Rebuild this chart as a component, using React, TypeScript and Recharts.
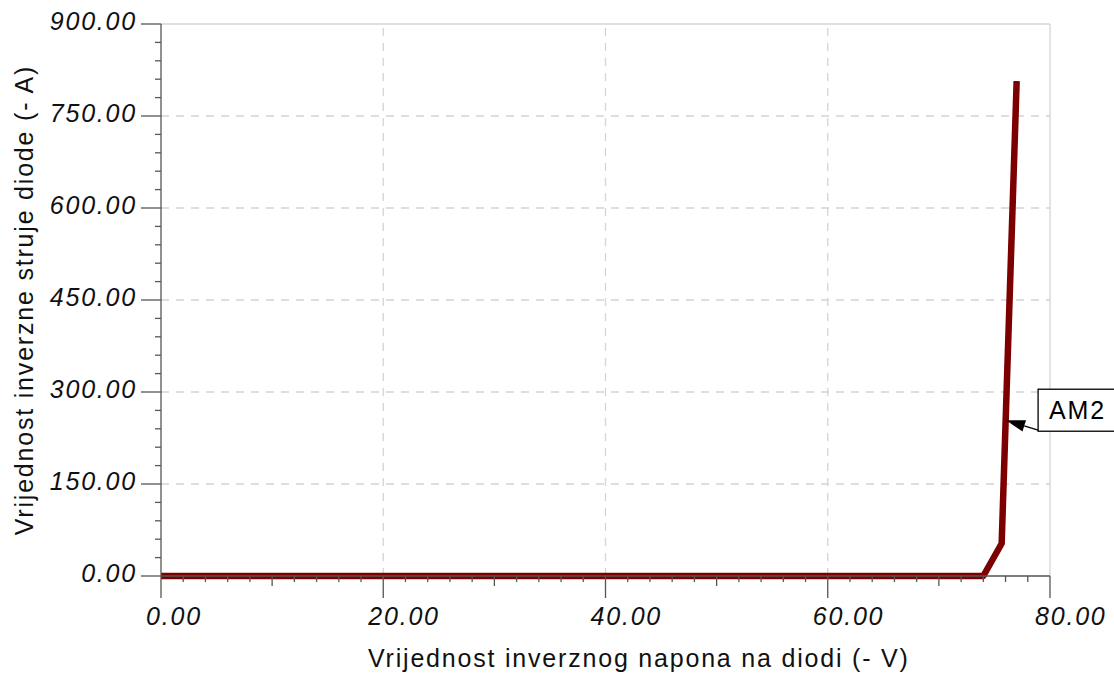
import React from "react";
import { LineChart, Line, XAxis, YAxis, ReferenceLine, ReferenceDot, Label } from "recharts";

// data
const voltages = [0, 10, 20, 30, 40, 50, 60, 70, 74, 75.65, 77.0];
const currents = [0, 0, 0, 0, 0, 0, 0, 0, 0, 53, 807];
const seriesName = "AM2";

const xTicks = Array.from({ length: 41 }, (_, i) => i * 2);
const yTicks = Array.from({ length: 31 }, (_, i) => i * 30);
const xMajor = [0, 20, 40, 60, 80];
const yMajor = [0, 150, 300, 450, 600, 750, 900];
const xLabel = "Vrijednost inverznog napona na diodi (- V)";
const yLabel = "Vrijednost inverzne struje diode (- A)";

const data = voltages.map((v, i) => ({ v, a: currents[i] }));

const FONT = "'Liberation Sans', Arial, sans-serif";
const AXIS = "#555";
const FS = 25;
const LS = 1.8;

const XTick = (props: any) => {
  const { x, y, payload } = props;
  const val = payload.value as number;
  const major = val % 20 === 0;
  const mid = val % 10 === 0;
  const len = major ? 22 : mid ? 10 : 6;
  return (
    <g>
      <line x1={x} x2={x} y1={y} y2={y + len} stroke={AXIS} strokeWidth={1.3} />
      {major && (
        <text x={x - 15} y={y + 49} textAnchor="start" fontFamily={FONT} fontStyle="italic" fontSize={FS} letterSpacing={LS} fill="#111">
          {val.toFixed(2)}
        </text>
      )}
    </g>
  );
};

const YTick = (props: any) => {
  const { x, y, payload } = props;
  const val = payload.value as number;
  const major = val % 150 === 0;
  const len = major ? 20 : 6;
  return (
    <g>
      <line x1={x - len} x2={x} y1={y} y2={y} stroke={AXIS} strokeWidth={1.3} />
      {major && (
        <text x={x - 24} y={y + 6} textAnchor="end" fontFamily={FONT} fontStyle="italic" fontSize={FS} letterSpacing={LS} fill="#111">
          {val.toFixed(2)}
        </text>
      )}
    </g>
  );
};

const XTitle = (props: any) => {
  const vb = props.viewBox || { x: 161, y: 576, width: 889, height: 98 };
  return (
    <text x={vb.x + 207} y={vb.y + 91} textAnchor="start" fontFamily={FONT} fontSize={FS} letterSpacing={LS} fill="#111">
      {xLabel}
    </text>
  );
};

const YTitle = (props: any) => {
  const vb = props.viewBox || { x: 0, y: 24, width: 161, height: 552 };
  const cx = 33;
  const cy = vb.y + vb.height / 2;
  return (
    <text x={cx} y={cy} transform={`rotate(-90 ${cx} ${cy})`} textAnchor="middle" fontFamily={FONT} fontSize={FS} letterSpacing={LS} fill="#111">
      {yLabel}
    </text>
  );
};

const Callout = (props: any) => {
  const { cx, cy } = props;
  const bx = cx + 32;
  const by = cy - 31;
  const tipX = cx;
  const tipY = cy;
  const tailX = bx;
  const tailY = cy + 10;
  const ang = Math.atan2(tailY - tipY, tailX - tipX);
  const L = 19, W = 6;
  const baseX = tipX + L * Math.cos(ang);
  const baseY = tipY + L * Math.sin(ang);
  const px = -Math.sin(ang) * W, py = Math.cos(ang) * W;
  return (
    <g>
      <rect x={bx} y={by} width={120} height={42} fill="#fff" stroke="#000" strokeWidth={1.3} />
      <text x={bx + 11} y={by + 30} fontFamily={FONT} fontSize={FS} letterSpacing={LS} fill="#000">
        {seriesName}
      </text>
      <line x1={tailX} y1={tailY} x2={baseX} y2={baseY} stroke="#000" strokeWidth={1.3} />
      <polygon points={`${tipX},${tipY} ${baseX + px},${baseY + py} ${baseX - px},${baseY - py}`} fill="#000" />
    </g>
  );
};

export default function App() {
  return (
    <div style={{ position: "fixed", left: 0, top: 0, width: 1114, height: 674, background: "#fff" }}>
      <LineChart width={1114} height={674} data={data} margin={{ top: 24, right: 64, left: 0, bottom: 0 }}>
        {xMajor.slice(1).map((v) => (
          <ReferenceLine key={"gx" + v} x={v} stroke="#d4d4d4" strokeWidth={1.3} strokeDasharray={v === 80 ? undefined : "8 7"} />
        ))}
        {yMajor.slice(1).map((v) => (
          <ReferenceLine key={"gy" + v} y={v} stroke="#d4d4d4" strokeWidth={1.3} strokeDasharray={v === 900 ? undefined : "8 7"} />
        ))}
        <XAxis
          dataKey="v"
          type="number"
          domain={[0, 80]}
          ticks={xTicks}
          interval={0}
          height={98}
          tickSize={0}
          tickMargin={0}
          tickLine={false}
          tick={<XTick />}
          axisLine={{ stroke: AXIS, strokeWidth: 1.3 }}
        >
          <Label content={<XTitle />} />
        </XAxis>
        <YAxis
          type="number"
          domain={[0, 900]}
          ticks={yTicks}
          interval={0}
          width={161}
          tickSize={0}
          tickMargin={0}
          tickLine={false}
          tick={<YTick />}
          axisLine={{ stroke: AXIS, strokeWidth: 1.3 }}
        >
          <Label content={<YTitle />} />
        </YAxis>
        <Line dataKey="a" type="linear" stroke="#7c0000" strokeWidth={6.5} dot={false} isAnimationActive={false} strokeLinejoin="round" />
        <ReferenceDot x={76.05} y={254} r={0} shape={<Callout />} />
      </LineChart>
    </div>
  );
}
